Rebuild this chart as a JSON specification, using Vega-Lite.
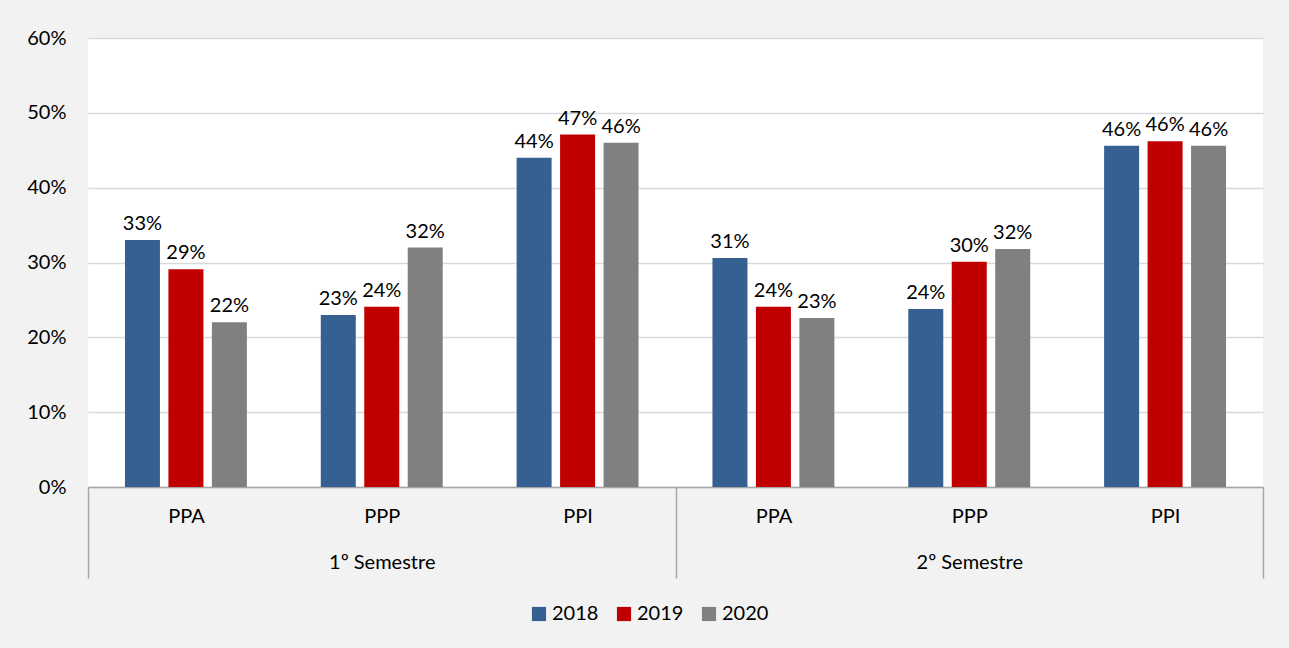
{
  "$schema": "https://vega.github.io/schema/vega-lite/v6.json",
  "width": 1175,
  "height": 449,
  "autosize": "none",
  "padding": {"left": 88, "top": 38, "right": 26, "bottom": 161},
  "background": "#f2f2f2",
  "config": {
    "font": "Lato",
    "view": {"stroke": null, "fill": "white"}
  },
  "data": {
    "values": [
      {"grp": "1º Semestre|PPA", "year": "2018", "value": 0.33},
      {"grp": "1º Semestre|PPA", "year": "2019", "value": 0.291},
      {"grp": "1º Semestre|PPA", "year": "2020", "value": 0.22},
      {"grp": "1º Semestre|PPP", "year": "2018", "value": 0.23},
      {"grp": "1º Semestre|PPP", "year": "2019", "value": 0.241},
      {"grp": "1º Semestre|PPP", "year": "2020", "value": 0.32},
      {"grp": "1º Semestre|PPI", "year": "2018", "value": 0.44},
      {"grp": "1º Semestre|PPI", "year": "2019", "value": 0.471},
      {"grp": "1º Semestre|PPI", "year": "2020", "value": 0.46},
      {"grp": "2º Semestre|PPA", "year": "2018", "value": 0.306},
      {"grp": "2º Semestre|PPA", "year": "2019", "value": 0.241},
      {"grp": "2º Semestre|PPA", "year": "2020", "value": 0.226},
      {"grp": "2º Semestre|PPP", "year": "2018", "value": 0.238},
      {"grp": "2º Semestre|PPP", "year": "2019", "value": 0.301},
      {"grp": "2º Semestre|PPP", "year": "2020", "value": 0.318},
      {"grp": "2º Semestre|PPI", "year": "2018", "value": 0.456},
      {"grp": "2º Semestre|PPI", "year": "2019", "value": 0.462},
      {"grp": "2º Semestre|PPI", "year": "2020", "value": 0.456}
    ]
  },
  "encoding": {
    "x": {
      "field": "grp",
      "type": "nominal",
      "sort": null,
      "scale": {"paddingInner": 0, "paddingOuter": 0},
      "axis": {
        "title": null,
        "labelAngle": 0,
        "labelFontSize": 20,
        "labelColor": "#000000",
        "labelBaseline": "top",
        "labelPadding": -72,
        "labelLineHeight": 46,
        "labelExpr": "split(datum.value,'|')[1] == 'PPP' ? ['PPP', split(datum.value,'|')[0]] : split(datum.value,'|')[1]",
        "tickBand": "extent",
        "tickSize": 91,
        "tickColor": {
          "condition": {"test": "datum.value != '1º Semestre|PPA' && datum.value != '1º Semestre|PPP' && datum.value != '2º Semestre|PPA' && datum.value != '2º Semestre|PPP'", "value": "#a6a6a6"},
          "value": "transparent"
        },
        "tickWidth": 1.5,
        "domainColor": "#a6a6a6",
        "domainWidth": 1.5,
        "grid": false
      }
    },
    "xOffset": {
      "field": "year",
      "type": "nominal",
      "scale": {"paddingInner": 0.195, "paddingOuter": 0.85}
    },
    "y": {
      "field": "value",
      "type": "quantitative",
      "scale": {"domain": [0, 0.6]},
      "axis": {
        "title": null,
        "format": ".0%",
        "values": [0, 0.1, 0.2, 0.3, 0.4, 0.5, 0.6],
        "labelFontSize": 20,
        "labelColor": "#000000",
        "labelPadding": 22,
        "ticks": false,
        "domain": false,
        "gridColor": "#d9d9d9",
        "gridWidth": 1.5
      }
    }
  },
  "layer": [
    {
      "mark": {"type": "bar"},
      "encoding": {
        "color": {
          "field": "year",
          "type": "nominal",
          "scale": {"domain": ["2018", "2019", "2020"], "range": ["#376092", "#c00000", "#808080"]},
          "legend": {
            "title": null,
            "orient": "none",
            "direction": "horizontal",
            "legendX": 441,
            "legendY": 566,
            "symbolType": "square",
            "symbolSize": 200,
            "symbolStrokeWidth": 0,
            "labelFontSize": 20,
            "labelColor": "#000000",
            "columnPadding": 15,
            "labelOffset": 3
          }
        }
      }
    },
    {
      "mark": {"type": "text", "dy": -16, "fontSize": 20, "color": "#000000"},
      "encoding": {
        "text": {"field": "value", "type": "quantitative", "format": ".0%"}
      }
    }
  ]
}
